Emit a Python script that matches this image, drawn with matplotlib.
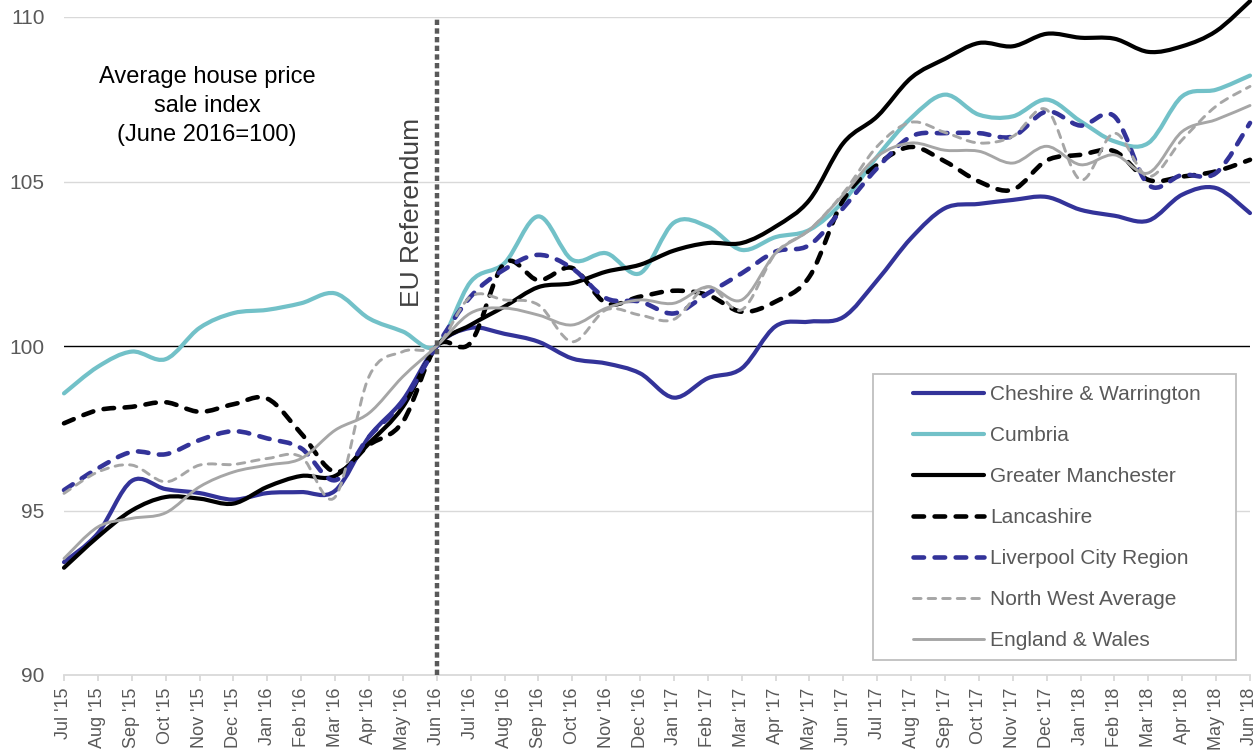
import matplotlib.pyplot as plt
from matplotlib.path import Path
from matplotlib.patches import PathPatch, Rectangle
from matplotlib.lines import Line2D
import numpy as np

plt.rcParams['font.family'] = ['Liberation Sans', 'DejaVu Sans']

months = ["Jul '15", "Aug '15", "Sep '15", "Oct '15", "Nov '15", "Dec '15",
          "Jan '16", "Feb '16", "Mar '16", "Apr '16", "May '16", "Jun '16",
          "Jul '16", "Aug '16", "Sep '16", "Oct '16", "Nov '16", "Dec '16",
          "Jan '17", "Feb '17", "Mar '17", "Apr '17", "May '17", "Jun '17",
          "Jul '17", "Aug '17", "Sep '17", "Oct '17", "Nov '17", "Dec '17",
          "Jan '18", "Feb '18", "Mar '18", "Apr '18", "May '18", "Jun '18"]

cheshire = [93.43, 94.31, 95.9, 95.65, 95.53, 95.33, 95.53, 95.56, 95.6, 97.24, 98.36, 100.0,
            100.55, 100.37, 100.13, 99.62, 99.47, 99.17, 98.43, 99.02, 99.32, 100.6, 100.74, 100.88,
            102.0, 103.28, 104.19, 104.32, 104.44, 104.53, 104.14, 103.96, 103.81, 104.6, 104.8, 104.04]
cumbria = [98.56, 99.37, 99.83, 99.6, 100.55, 101.0, 101.1, 101.3, 101.6, 100.84, 100.44, 100.0,
           101.95, 102.52, 103.94, 102.62, 102.82, 102.21, 103.75, 103.63, 102.92, 103.31, 103.53, 104.4,
           105.76, 106.93, 107.64, 107.03, 106.98, 107.49, 106.83, 106.22, 106.17, 107.59, 107.79, 108.22]
manchester = [93.26, 94.2, 95.0, 95.41, 95.36, 95.21, 95.72, 96.05, 96.05, 97.04, 98.15, 100.0,
              100.64, 101.2, 101.79, 101.91, 102.26, 102.47, 102.9, 103.13, 103.13, 103.63, 104.44, 106.17,
              106.98, 108.15, 108.73, 109.21, 109.11, 109.49, 109.37, 109.34, 108.94, 109.11, 109.57, 110.48]
lancashire = [97.65, 98.05, 98.15, 98.29, 98.0, 98.23, 98.4, 97.34, 96.17, 96.99, 97.7, 100.0,
              100.1, 102.52, 102.0, 102.37, 101.3, 101.5, 101.68, 101.55, 101.04, 101.35, 102.11, 104.44,
              105.51, 106.05, 105.61, 105.0, 104.75, 105.64, 105.81, 105.92, 105.05, 105.15, 105.31, 105.66]
liverpool = [95.62, 96.28, 96.78, 96.71, 97.14, 97.41, 97.19, 96.89, 95.92, 97.24, 98.3, 100.0,
             101.5, 102.33, 102.77, 102.36, 101.45, 101.35, 100.99, 101.6, 102.21, 102.87, 103.07, 104.2,
             105.41, 106.37, 106.47, 106.47, 106.37, 107.13, 106.7, 106.98, 104.9, 105.2, 105.26, 106.78]
north_west = [95.52, 96.17, 96.38, 95.87, 96.38, 96.4, 96.58, 96.63, 95.41, 99.07, 99.83, 100.0,
              101.5, 101.4, 101.25, 100.13, 101.1, 100.94, 100.81, 101.8, 101.1, 102.82, 103.53, 104.65,
              106.07, 106.8, 106.49, 106.17, 106.37, 107.18, 105.05, 106.47, 105.15, 106.27, 107.29, 107.89]
eng_wales = [93.54, 94.5, 94.76, 94.93, 95.72, 96.17, 96.38, 96.58, 97.44, 97.96, 99.07, 100.0,
             101.0, 101.15, 100.94, 100.64, 101.15, 101.4, 101.3, 101.8, 101.4, 102.82, 103.53, 104.6,
             105.76, 106.17, 105.95, 105.92, 105.56, 106.07, 105.51, 105.81, 105.26, 106.52, 106.88, 107.31]

names = ["Cheshire & Warrington", "Cumbria", "Greater Manchester", "Lancashire",
         "Liverpool City Region", "North West Average", "England & Wales"]
series = [cheshire, cumbria, manchester, lancashire, liverpool, north_west, eng_wales]
colors = ['#333399', '#72C1C8', '#000000', '#000000', '#333399', '#A6A6A6', '#A6A6A6']
widths = [3.0, 3.0, 3.0, 3.3, 3.3, 2.1, 2.1]
styles = ['-', '-', '-', (0, (2.3, 2.3)), (0, (2.3, 2.3)), (0, (2.6, 2.4)), '-']


def smooth_path(x, y):
    # Excel style smoothed line: cubic bezier through every point
    n = len(x)
    verts = [(x[0], y[0])]
    codes = [Path.MOVETO]
    for i in range(n - 1):
        xa, ya = (x[i - 1], y[i - 1]) if i > 0 else (x[i], y[i])
        xb, yb = (x[i + 2], y[i + 2]) if i + 2 < n else (x[i + 1], y[i + 1])
        c1 = (x[i] + (x[i + 1] - xa) / 6, y[i] + (y[i + 1] - ya) / 6)
        c2 = (x[i + 1] - (xb - x[i]) / 6, y[i + 1] - (yb - y[i]) / 6)
        verts += [c1, c2, (x[i + 1], y[i + 1])]
        codes += [Path.CURVE4] * 3
    return Path(verts, codes)


fig = plt.figure(figsize=(12.56, 7.51), dpi=100)
ax = fig.add_axes([64 / 1256, 1 - 675 / 751, (1250 - 64) / 1256, (675 - 17) / 751])

x = np.arange(len(months))
ax.set_xlim(0, len(months) - 1)
ax.set_ylim(90, 110)

for v in [95, 105, 110]:
    ax.axhline(v, color='#D9D9D9', lw=1.0, zorder=0)
ax.axhline(100, color='black', lw=1.0, zorder=1)

handles = []
for vals, name, c, w, ls in zip(series, names, colors, widths, styles):
    p = PathPatch(smooth_path(x, np.array(vals)), fill=False, edgecolor=c, lw=w,
                  linestyle=ls, capstyle='round', joinstyle='round', clip_on=False, zorder=3)
    ax.add_patch(p)
    handles.append(Line2D([], [], color=c, lw=w, linestyle=ls, solid_capstyle='round',
                          dash_capstyle='round'))

ax.axvline(11, color='#595959', lw=3.2, linestyle=(0, (1.2, 0.75)), zorder=4)

for s in ['top', 'right', 'left']:
    ax.spines[s].set_visible(False)
ax.spines['bottom'].set_color('#D9D9D9')
ax.spines['bottom'].set_linewidth(1.3)

ax.set_yticks([90, 95, 100, 105, 110])
ax.tick_params(axis='y', length=0, pad=14, labelsize=15, labelcolor='#595959')
ax.set_xticks(x)
ax.set_xticklabels(months, rotation=90)
ax.tick_params(axis='x', length=4, width=1.3, color='#D9D9D9', pad=5,
               labelsize=13, labelcolor='#595959')

fig.text(207 / 1256, 1 - 106 / 751, "Average house price\nsale index\n(June 2016=100)",
         ha='center', va='center', fontsize=17, color='black', linespacing=1.39)
fig.text(412 / 1256, 1 - 212 / 751, "EU Referendum", rotation=90, ha='center', va='center',
         fontsize=19, color='#404040')

fig.patches.append(Rectangle((873 / 1256, 1 - 660 / 751), (1236 - 873) / 1256, (660 - 374) / 751,
                             transform=fig.transFigure, fill=True, facecolor='white',
                             edgecolor='#BFBFBF', lw=1.3, zorder=5))
leg = fig.legend(handles, names, loc='upper left', bbox_to_anchor=(913 / 1256, 1 - 385 / 751),
                 frameon=False, fontsize=15, handlelength=3.4, handletextpad=0.3,
                 labelspacing=1.06, borderpad=0, borderaxespad=0)
for t in leg.get_texts():
    t.set_color('#595959')
leg.set_zorder(6)

fig.savefig('out.png', dpi=100)
